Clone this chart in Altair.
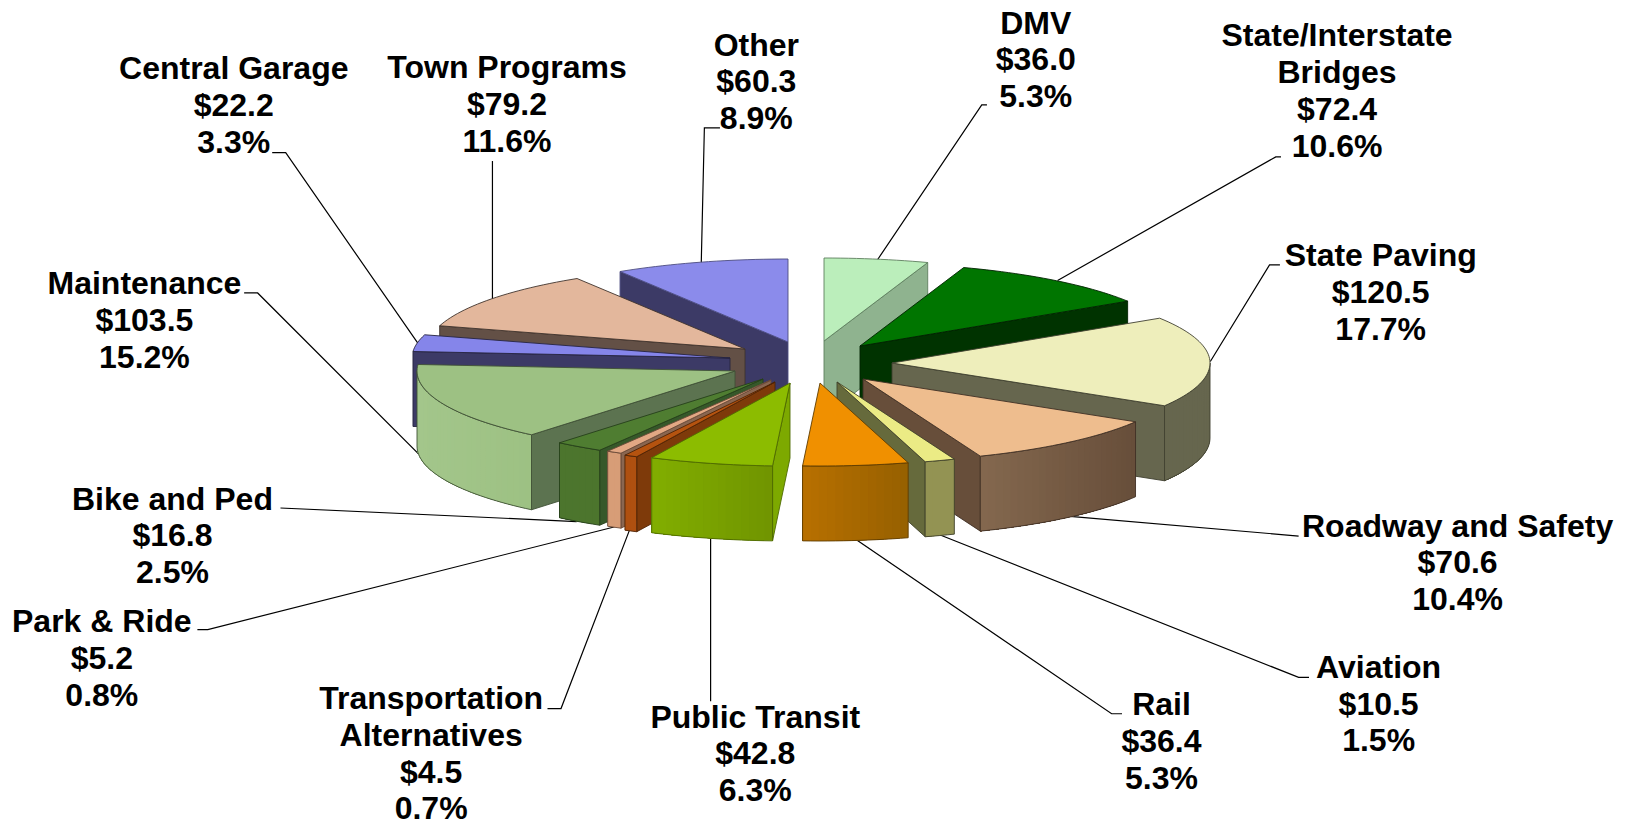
import math
import altair as alt

# ---- data (clockwise from 12 o'clock)
names = ["DMV", "State/Interstate\nBridges", "State Paving", "Roadway and Safety", "Aviation", "Rail",
         "Public Transit", "Transportation\nAlternatives", "Park & Ride", "Bike and Ped", "Maintenance",
         "Central Garage", "Town Programs", "Other"]
values = [36.0, 72.4, 120.5, 70.6, 10.5, 36.4, 42.8, 4.5, 5.2, 16.8, 103.5, 22.2, 79.2, 60.3]
shares = ["5.3%", "10.6%", "17.7%", "10.4%", "1.5%", "5.3%", "6.3%", "0.7%", "0.8%", "2.5%", "15.2%",
          "3.3%", "11.6%", "8.9%"]

# ---- layout and style, slice by slice
apex_x = [824, 860, 892, 863, 837, 820, 790, 775, 771, 763, 735, 730, 745, 788]
apex_y = [341, 346, 363, 379, 382, 383, 383, 382, 380, 379, 371, 358, 349, 342]
top_col = ["#BBEEBB", "#007500", "#EEEEBB", "#EEBD8E", "#EBEB85", "#F09000", "#8CBC00", "#B5530F", "#E2A884",
           "#4F7D31", "#9DC183", "#8585EA", "#E3B79C", "#8B8BEB"]
side_col = ["#8FB38F", "#003300", "#66664E", "#674E3A", "#666A3C", "#966000", "#7DA900", "#7E3A0A", "#8A6650",
            "#36582A", "#5C7350", "#3C3A66", "#635046", "#3C3A66"]
wall_left = ["#8FB38F", "#003300", "#66664E", "#84684E", "#939353", "#B87000", "#82AE00", "#AF5010", "#D79D77",
             "#4C752D", "#A3C68B", "#3C3A66", "#635046", "#3C3A66"]
wall_right = ["#8FB38F", "#003300", "#66664E", "#674E3A", "#939353", "#966000", "#709400", "#AF5010", "#D79D77",
              "#4C752D", "#9DC183", "#3C3A66", "#635046", "#3C3A66"]
edge_col = ["#5F7F5F", "#002200", "#3F3F30", "#3F3025", "#3F412A", "#5F3C00", "#4F6B00", "#4F2406", "#6A4A38",
            "#26401B", "#3F5036", "#26243F", "#3F332C", "#4C4C80"]
draw_order = [13, 0, 1, 2, 12, 11, 10, 9, 8, 7, 3, 4, 6, 5]

RX, RY, DEPTH = 318, 83, 75
PAGE_X = 8
PAD_TOP = 20
PAGE_Y = 8 + PAD_TOP

label_x = [997, 1287, 1329, 1403, 1327, 1118, 727, 415, 98, 166, 139, 225, 488, 728]
label_y = [22.8, 34.8, 246.8, 506.8, 642.8, 678.8, 690.8, 672.8, 598.8, 480.8, 273.8, 66.8, 65.8, 43.8]
SHRINK = 1629 / 1568

leaders = [
    [(950, 101), (945, 101), (844, 251)],
    [(1233, 151), (1228, 151), (1018, 270)],
    [(1232, 255), (1222, 255), (1165, 348)],
    [(1250, 516), (1030, 497)],
    [(1260, 652), (1250, 652), (905, 515)],
    [(1080, 687), (1070, 687), (825, 520)],
    [(684, 675), (684, 518)],
    [(527, 682), (540, 682), (606, 510)],
    [(190, 606), (200, 606), (592, 507)],
    [(270, 489), (555, 502)],
    [(235, 282), (248, 282), (425, 459)],
    [(262, 147), (275, 147), (402, 330)],
    [(474, 155), (474, 288)],
    [(693, 123), (678, 123), (675, 253)],
]


def feature(kind, pts, fill, stroke, width):
    pts = [[round(x - PAGE_X, 2), round(y - PAGE_Y, 2)] for x, y in pts]
    if kind == "Polygon":
        geom = {"type": "Polygon", "coordinates": [pts + [pts[0]]]}
    else:
        geom = {"type": "LineString", "coordinates": pts}
    return {"type": "Feature", "geometry": geom,
            "properties": {"fill": fill, "stroke": stroke, "width": width}}


def mix(a, b, t):
    ca = [int(a[i:i + 2], 16) for i in (1, 3, 5)]
    cb = [int(b[i:i + 2], 16) for i in (1, 3, 5)]
    return "#" + "".join(f"{round(p + (q - p) * t):02x}" for p, q in zip(ca, cb))


def rim(i, deg, drop=0):
    r = math.radians(deg)
    return apex_x[i] + RX * math.sin(r), apex_y[i] - RY * math.cos(r) + drop


def arc(i, a, b, drop=0):
    n = max(2, int(abs(b - a) / 1.5) + 1)
    return [rim(i, a + (b - a) * k / n, drop) for k in range(n + 1)]


total = sum(values)
starts = [sum(values[:i]) / total * 360 for i in range(len(values))]
ends = [sum(values[:i + 1]) / total * 360 for i in range(len(values))]

features = []
for pts in leaders:
    features.append(feature("LineString", [(x * SHRINK, y * SHRINK) for x, y in pts], "transparent", "#000000", 1.2))

for i in draw_order:
    a, b = starts[i], ends[i]
    apex = (apex_x[i], apex_y[i])
    low = (apex_x[i], apex_y[i] + DEPTH)
    for deg, show in ((a, a >= 180), (b, b <= 180)):
        if show:
            p = rim(i, deg)
            q = rim(i, deg, DEPTH)
            features.append(feature("Polygon", [apex, p, q, low], side_col[i], edge_col[i], 0.9))
    wa, wb = max(a, 90), min(b, 270)
    if wb > wa:
        outer = arc(i, wa, wb)
        x_hi, x_lo = outer[0][0], outer[-1][0]
        for k in range(len(outer) - 1):
            # each strip runs on to the wall's far end, so no seam can show between strips
            t = (outer[k][0] + outer[k + 1][0]) / 2
            t = (t - x_lo) / (x_hi - x_lo) if x_hi != x_lo else 0
            c = mix(wall_left[i], wall_right[i], t)
            rest = outer[k:]
            features.append(feature("Polygon", rest + [(x, y + DEPTH) for x, y in reversed(rest)],
                                    c, "transparent", 0))
        features.append(feature("Polygon", outer + [(x, y + DEPTH) for x, y in reversed(outer)],
                                "transparent", edge_col[i], 0.9))
    features.append(feature("Polygon", [apex] + arc(i, a, b), top_col[i], edge_col[i], 0.9))

pie = alt.Chart(alt.InlineData(values=features, format=alt.DataFormat(type="json"))).mark_geoshape().encode(
    fill=alt.Fill("properties.fill:N", scale=None),
    stroke=alt.Stroke("properties.stroke:N", scale=None),
    strokeWidth=alt.StrokeWidth("properties.width:Q", scale=None),
).project(type="identity", scale=1, translate=[0, 0])

labels = [{"text": f"{n}\n${v:.1f}\n{s}", "x": x * SHRINK - PAGE_X, "y": y * SHRINK - PAGE_Y}
          for n, v, s, x, y in zip(names, values, shares, label_x, label_y)]
text = alt.Chart(alt.Data(values=labels)).mark_text(
    font="Liberation Sans", fontWeight="bold", fontSize=32, lineBreak="\n", lineHeight=36.8,
    baseline="middle", align="center", color="#000000", clip=False,
).encode(
    x=alt.X("x:Q", scale=None, axis=None),
    y=alt.Y("y:Q", scale=None, axis=None),
    text="text:N",
)

chart = alt.layer(pie, text).properties(
    width=1613, height=794,
    padding={"left": 0, "top": PAD_TOP, "right": 0, "bottom": 0},
    autosize=alt.AutoSizeParams(type="none"),
).configure_view(stroke=None)
chart.save("out.html", embed_options={"renderer": "svg", "actions": False})
